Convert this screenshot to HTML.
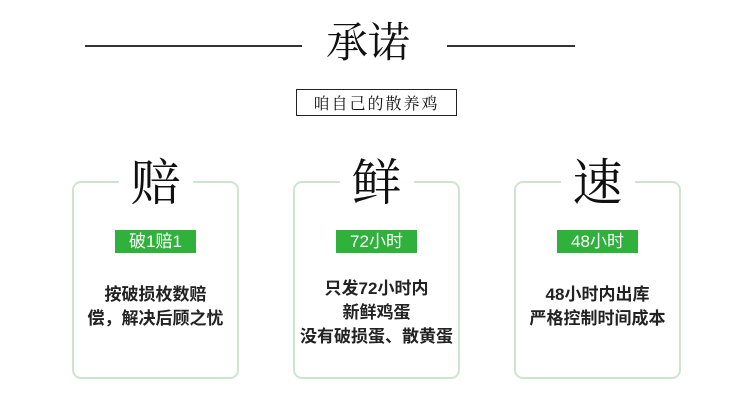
<!DOCTYPE html>
<html><head><meta charset="utf-8"><style>
body{margin:0;width:750px;height:406px;background:#fff;position:relative;overflow:hidden;font-family:"Liberation Sans","Noto Sans CJK SC",sans-serif}
.abs{position:absolute}
.line{position:absolute;height:2px;background:#333;top:45px}
.card{position:absolute;top:181px;width:163px;height:194px;border:2px solid #cfe4cf;border-radius:9px}
.big{position:absolute;top:-32px;left:50%;transform:translateX(-50%);background:#fff;padding:0 12px;font-family:"Noto Serif CJK SC",serif;font-size:50px;line-height:56px;color:#111;font-weight:400}
.badge{position:absolute;top:47px;left:41px;width:81px;height:23px;background:#2fb13b;color:#fff;font-size:17px;line-height:23px;text-align:center}
.txt{position:absolute;top:100px;left:-10px;width:183px;text-align:center;font-weight:bold;font-size:17px;line-height:24px;color:#222}
</style></head><body>
<div class="line" style="left:85px;width:217px"></div>
<div class="line" style="left:447px;width:128px"></div>
<div class="abs" style="left:326px;top:12px;font-family:'Noto Serif CJK SC',serif;font-size:42px;line-height:56px;color:#111">承诺</div>
<div class="abs" style="left:296px;top:89px;width:159px;height:25px;border:1.5px solid #222;font-family:'Noto Serif CJK SC',serif;font-size:16px;line-height:25px;text-align:center;letter-spacing:2px;color:#111">咱自己的散养鸡</div>
<div class="card" style="left:72px"><div class="big">赔</div><div class="badge">破1赔1</div><div class="txt">按破损枚数赔<br>偿，解决后顾之忧</div></div>
<div class="card" style="left:293px"><div class="big">鲜</div><div class="badge">72小时</div><div class="txt" style="top:94px">只发72小时内<br>新鲜鸡蛋<br>没有破损蛋、散黄蛋</div></div>
<div class="card" style="left:514px"><div class="big">速</div><div class="badge">48小时</div><div class="txt">48小时内出库<br>严格控制时间成本</div></div>
</body></html>
